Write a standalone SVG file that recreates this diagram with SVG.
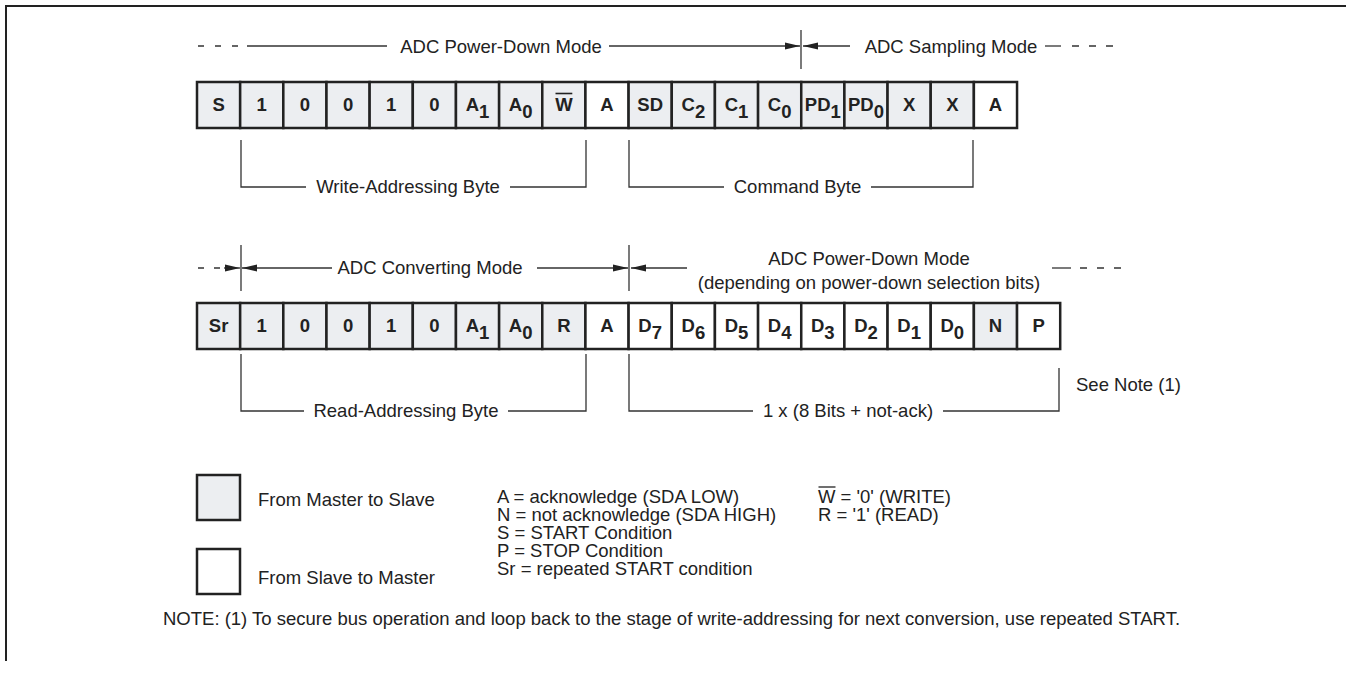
<svg xmlns="http://www.w3.org/2000/svg" width="1346" height="680" viewBox="0 0 1346 680">
<style>
.t{font-family:"Liberation Sans",Arial,sans-serif;font-size:18.5px;fill:#222}
.m{text-anchor:middle}
.b{font-family:"Liberation Sans",Arial,sans-serif;font-size:18.5px;font-weight:bold;fill:#222;text-anchor:middle}
.ln{stroke:#333;stroke-width:1.3;fill:none}
.bx{stroke:#222;stroke-width:2.5}
.g{fill:#eceef1}
.w{fill:#fff}
.fr{stroke:#222;stroke-width:2;fill:none}
</style>
<defs>
<marker id="ah" markerUnits="userSpaceOnUse" markerWidth="16" markerHeight="8" refX="15" refY="4" orient="auto">
<path d="M0,0.6 L15,4 L0,7.4 z" fill="#222"/>
</marker>
</defs>
<rect width="1346" height="680" fill="#fff"/>
<path class="fr" d="M6,661 V6 H1346"/>

<g id="connectors">
<!-- row 1 mode annotation -->
<path class="ln" d="M198,46 H204 M215,46 H221 M232,46 H238"/>
<line class="ln" x1="247" y1="46" x2="387" y2="46"/>
<line class="ln" x1="609" y1="46" x2="800" y2="46" marker-end="url(#ah)"/>
<line class="ln" x1="801" y1="30" x2="801" y2="69"/>
<line class="ln" x1="850" y1="46" x2="803" y2="46" marker-end="url(#ah)"/>
<line class="ln" x1="1045" y1="46" x2="1061" y2="46"/>
<path class="ln" d="M1072,46 H1079 M1089,46 H1096 M1106,46 H1113"/>
<!-- row 1 brackets -->
<path class="ln" d="M241,140 V187 H306 M510,187 H586 V140"/>
<path class="ln" d="M629,140 V187 H724 M871,187 H973 V140"/>
<!-- row 2 mode annotation -->
<path class="ln" d="M198,268 H204 M214,268 H220"/>
<line class="ln" x1="224" y1="268" x2="240" y2="268" marker-end="url(#ah)"/>
<line class="ln" x1="241" y1="245" x2="241" y2="291"/>
<line class="ln" x1="332" y1="268" x2="242" y2="268" marker-end="url(#ah)"/>
<line class="ln" x1="537" y1="268" x2="628" y2="268" marker-end="url(#ah)"/>
<line class="ln" x1="629" y1="245" x2="629" y2="291"/>
<line class="ln" x1="687" y1="268" x2="631" y2="268" marker-end="url(#ah)"/>
<line class="ln" x1="1052" y1="268" x2="1071" y2="268"/>
<path class="ln" d="M1080,268 H1087 M1097,268 H1104 M1114,268 H1121"/>
<!-- row 2 brackets -->
<path class="ln" d="M241,354 V411 H304 M508,411 H586 V354"/>
<path class="ln" d="M629,354 V411 H753 M943,411 H1059 V368"/>
</g>

<g id="labels">
<text class="t m" x="501" y="53">ADC Power-Down Mode</text>
<text class="t m" x="951" y="53">ADC Sampling Mode</text>
<text class="t m" x="408" y="193">Write-Addressing Byte</text>
<text class="t m" x="797.5" y="193">Command Byte</text>
<text class="t m" x="430" y="274">ADC Converting Mode</text>
<text class="t m" x="869" y="264.5">ADC Power-Down Mode</text>
<text class="t m" x="869" y="288.5">(depending on power-down selection bits)</text>
<text class="t m" x="406" y="417">Read-Addressing Byte</text>
<text class="t m" x="848" y="417">1 x (8 Bits + not-ack)</text>
<text class="t" x="1076" y="391">See Note (1)</text>
</g>

<g id="row1">
<g id="r1-S"><rect class="bx g" x="197" y="82" width="43.16" height="46"/><text class="b" x="218.58" y="110.5">S</text></g>
<g id="r1-b1"><rect class="bx g" x="240.16" y="82" width="43.16" height="46"/><text class="b" x="261.74" y="110.5">1</text></g>
<g id="r1-b2"><rect class="bx g" x="283.32" y="82" width="43.16" height="46"/><text class="b" x="304.9" y="110.5">0</text></g>
<g id="r1-b3"><rect class="bx g" x="326.48" y="82" width="43.16" height="46"/><text class="b" x="348.06" y="110.5">0</text></g>
<g id="r1-b4"><rect class="bx g" x="369.64" y="82" width="43.16" height="46"/><text class="b" x="391.22" y="110.5">1</text></g>
<g id="r1-b5"><rect class="bx g" x="412.8" y="82" width="43.16" height="46"/><text class="b" x="434.38" y="110.5">0</text></g>
<g id="r1-A1"><rect class="bx g" x="455.96" y="82" width="43.16" height="46"/><text class="b" x="477.54" y="110.5">A<tspan dy="7">1</tspan></text></g>
<g id="r1-A0"><rect class="bx g" x="499.12" y="82" width="43.16" height="46"/><text class="b" x="520.7" y="110.5">A<tspan dy="7">0</tspan></text></g>
<g id="r1-W"><rect class="bx g" x="542.28" y="82" width="43.16" height="46"/><text class="b" x="563.86" y="110.5">W</text><line x1="555.5" y1="93.5" x2="572.3" y2="93.5" stroke="#222" stroke-width="1.6"/></g>
<g id="r1-A"><rect class="bx w" x="585.44" y="82" width="43.16" height="46"/><text class="b" x="607.02" y="110.5">A</text></g>
<g id="r1-SD"><rect class="bx g" x="628.6" y="82" width="43.16" height="46"/><text class="b" x="650.18" y="110.5">SD</text></g>
<g id="r1-C2"><rect class="bx g" x="671.76" y="82" width="43.16" height="46"/><text class="b" x="693.34" y="110.5">C<tspan dy="7">2</tspan></text></g>
<g id="r1-C1"><rect class="bx g" x="714.92" y="82" width="43.16" height="46"/><text class="b" x="736.5" y="110.5">C<tspan dy="7">1</tspan></text></g>
<g id="r1-C0"><rect class="bx g" x="758.08" y="82" width="43.16" height="46"/><text class="b" x="779.66" y="110.5">C<tspan dy="7">0</tspan></text></g>
<g id="r1-PD1"><rect class="bx g" x="801.24" y="82" width="43.16" height="46"/><text class="b" x="822.82" y="110.5">PD<tspan dy="7">1</tspan></text></g>
<g id="r1-PD0"><rect class="bx g" x="844.4" y="82" width="43.16" height="46"/><text class="b" x="865.98" y="110.5">PD<tspan dy="7">0</tspan></text></g>
<g id="r1-X1"><rect class="bx g" x="887.56" y="82" width="43.16" height="46"/><text class="b" x="909.14" y="110.5">X</text></g>
<g id="r1-X2"><rect class="bx g" x="930.72" y="82" width="43.16" height="46"/><text class="b" x="952.3" y="110.5">X</text></g>
<g id="r1-A2"><rect class="bx w" x="973.88" y="82" width="43.16" height="46"/><text class="b" x="995.46" y="110.5">A</text></g>
</g>

<g id="row2">
<g id="r2-Sr"><rect class="bx g" x="197" y="303" width="43.16" height="46"/><text class="b" x="218.58" y="331.5">Sr</text></g>
<g id="r2-b1"><rect class="bx g" x="240.16" y="303" width="43.16" height="46"/><text class="b" x="261.74" y="331.5">1</text></g>
<g id="r2-b2"><rect class="bx g" x="283.32" y="303" width="43.16" height="46"/><text class="b" x="304.9" y="331.5">0</text></g>
<g id="r2-b3"><rect class="bx g" x="326.48" y="303" width="43.16" height="46"/><text class="b" x="348.06" y="331.5">0</text></g>
<g id="r2-b4"><rect class="bx g" x="369.64" y="303" width="43.16" height="46"/><text class="b" x="391.22" y="331.5">1</text></g>
<g id="r2-b5"><rect class="bx g" x="412.8" y="303" width="43.16" height="46"/><text class="b" x="434.38" y="331.5">0</text></g>
<g id="r2-A1"><rect class="bx g" x="455.96" y="303" width="43.16" height="46"/><text class="b" x="477.54" y="331.5">A<tspan dy="7">1</tspan></text></g>
<g id="r2-A0"><rect class="bx g" x="499.12" y="303" width="43.16" height="46"/><text class="b" x="520.7" y="331.5">A<tspan dy="7">0</tspan></text></g>
<g id="r2-R"><rect class="bx g" x="542.28" y="303" width="43.16" height="46"/><text class="b" x="563.86" y="331.5">R</text></g>
<g id="r2-A"><rect class="bx w" x="585.44" y="303" width="43.16" height="46"/><text class="b" x="607.02" y="331.5">A</text></g>
<g id="r2-D7"><rect class="bx w" x="628.6" y="303" width="43.16" height="46"/><text class="b" x="650.18" y="331.5">D<tspan dy="7">7</tspan></text></g>
<g id="r2-D6"><rect class="bx w" x="671.76" y="303" width="43.16" height="46"/><text class="b" x="693.34" y="331.5">D<tspan dy="7">6</tspan></text></g>
<g id="r2-D5"><rect class="bx w" x="714.92" y="303" width="43.16" height="46"/><text class="b" x="736.5" y="331.5">D<tspan dy="7">5</tspan></text></g>
<g id="r2-D4"><rect class="bx w" x="758.08" y="303" width="43.16" height="46"/><text class="b" x="779.66" y="331.5">D<tspan dy="7">4</tspan></text></g>
<g id="r2-D3"><rect class="bx w" x="801.24" y="303" width="43.16" height="46"/><text class="b" x="822.82" y="331.5">D<tspan dy="7">3</tspan></text></g>
<g id="r2-D2"><rect class="bx w" x="844.4" y="303" width="43.16" height="46"/><text class="b" x="865.98" y="331.5">D<tspan dy="7">2</tspan></text></g>
<g id="r2-D1"><rect class="bx w" x="887.56" y="303" width="43.16" height="46"/><text class="b" x="909.14" y="331.5">D<tspan dy="7">1</tspan></text></g>
<g id="r2-D0"><rect class="bx w" x="930.72" y="303" width="43.16" height="46"/><text class="b" x="952.3" y="331.5">D<tspan dy="7">0</tspan></text></g>
<g id="r2-N"><rect class="bx g" x="973.88" y="303" width="43.16" height="46"/><text class="b" x="995.46" y="331.5">N</text></g>
<g id="r2-P"><rect class="bx w" x="1017.04" y="303" width="43.16" height="46"/><text class="b" x="1038.62" y="331.5">P</text></g>
</g>

<g id="legend">
<g id="leg-master"><rect class="bx g" x="197" y="475" width="43" height="45"/><text class="t" x="258" y="506">From Master to Slave</text></g>
<g id="leg-slave"><rect class="bx w" x="197" y="549" width="43" height="45"/><text class="t" x="258" y="584">From Slave to Master</text></g>
<g id="leg-defs">
<text class="t" x="497" y="503">A = acknowledge (SDA LOW)</text>
<text class="t" x="497" y="521">N = not acknowledge (SDA HIGH)</text>
<text class="t" x="497" y="539">S = START Condition</text>
<text class="t" x="497" y="557">P = STOP Condition</text>
<text class="t" x="497" y="575">Sr = repeated START condition</text>
<text class="t" x="818" y="503">W = '0' (WRITE)</text>
<line x1="818.5" y1="487" x2="835.5" y2="487" stroke="#222" stroke-width="1.3"/>
<text class="t" x="818" y="521">R = '1' (READ)</text>
</g>
</g>

<text id="note" class="t" x="163" y="625">NOTE: (1) To secure bus operation and loop back to the stage of write-addressing for next conversion, use repeated START.</text>
</svg>
